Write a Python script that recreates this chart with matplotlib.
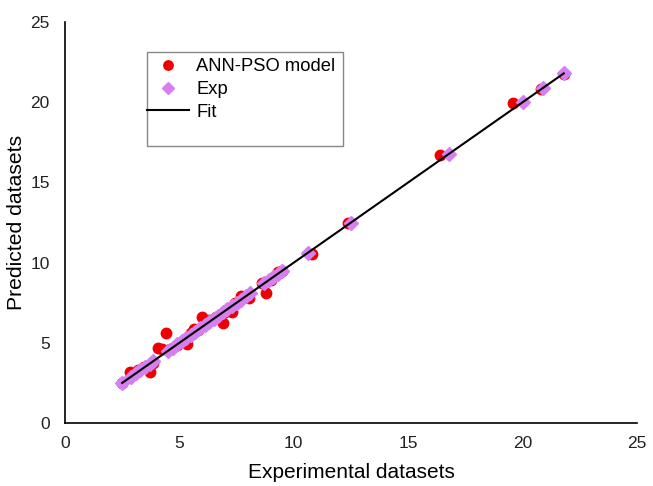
import numpy as np
import matplotlib.pyplot as plt
from matplotlib.patches import Rectangle

plt.rcParams['font.family'] = ['Liberation Sans', 'DejaVu Sans']

# experimental values (plotted on the y = x line)
exp_x = [2.5, 2.9, 3.1, 3.3, 3.5, 3.7, 3.85, 4.5, 4.7, 4.9, 5.1, 5.3, 5.5, 5.7,
         5.9, 6.1, 6.3, 6.5, 6.7, 6.9, 7.1, 7.3, 7.5, 7.7, 7.9, 8.1, 8.7, 8.9,
         9.1, 9.3, 9.5, 10.6, 12.5, 16.8, 20.0, 20.9, 21.8]

# ANN-PSO model points
ann_x = [2.5, 2.85, 3.2, 3.45, 3.7, 3.85, 4.05, 4.25, 4.4, 4.6, 4.9, 5.15, 5.35,
         5.5, 5.65, 5.8, 6.0, 6.3, 6.6, 6.9, 7.0, 7.2, 7.3, 7.45, 7.7, 7.9, 8.05,
         8.6, 8.8, 9.0, 9.3, 9.5, 10.8, 12.35, 16.4, 19.6, 20.8, 21.8]
ann_y = [2.5, 3.15, 3.3, 3.5, 3.2, 3.75, 4.7, 4.6, 5.6, 4.6, 4.85, 5.1, 4.95,
         5.6, 5.85, 5.8, 6.6, 6.4, 6.6, 6.25, 6.9, 7.2, 6.95, 7.5, 7.95, 7.9, 7.8,
         8.7, 8.1, 8.9, 9.4, 9.5, 10.55, 12.5, 16.7, 19.95, 20.85, 21.75]

fit_x = [2.5, 21.8]
fit_y = [2.5, 21.8]

fig = plt.figure(figsize=(6.53, 4.86), dpi=100)
ax = fig.add_axes([0.0995, 0.1296, 0.876, 0.825])

ax.plot(ann_x, ann_y, 'o', color='#ee0000', markersize=7.5, label='ANN-PSO model', zorder=2)
ax.plot(exp_x, exp_x, 'D', color='#d67ff0', markersize=7, label='Exp', zorder=3)
ax.plot(fit_x, fit_y, '-', color='black', linewidth=1.5, label='Fit', zorder=4)

ax.set_xlim(0, 25)
ax.set_ylim(0, 25)
ax.set_xticks(np.arange(0, 26, 5))
ax.set_yticks(np.arange(0, 26, 5))
ax.tick_params(length=0, labelsize=12.5, colors='#222222')
ax.tick_params(axis='x', pad=9)
ax.tick_params(axis='y', pad=11)
for s in ['top', 'right']:
    ax.spines[s].set_visible(False)
for s in ['left', 'bottom']:
    ax.spines[s].set_linewidth(1.2)

ax.set_xlabel('Experimental datasets', fontsize=15, labelpad=9)
ax.set_ylabel('Predicted datasets', fontsize=15.2, labelpad=3)

ax.add_patch(Rectangle((0.143, 0.691), 0.343, 0.234, transform=ax.transAxes,
                       fill=False, edgecolor='#888888', linewidth=1, zorder=5))
ax.legend(loc='upper left', bbox_to_anchor=(0.143, 0.91), frameon=False,
          fontsize=13.2, borderpad=0, borderaxespad=0, handlelength=2.3,
          handletextpad=0.4, labelspacing=0.32, markerscale=0.9)

fig.savefig('out.png', dpi=100)
